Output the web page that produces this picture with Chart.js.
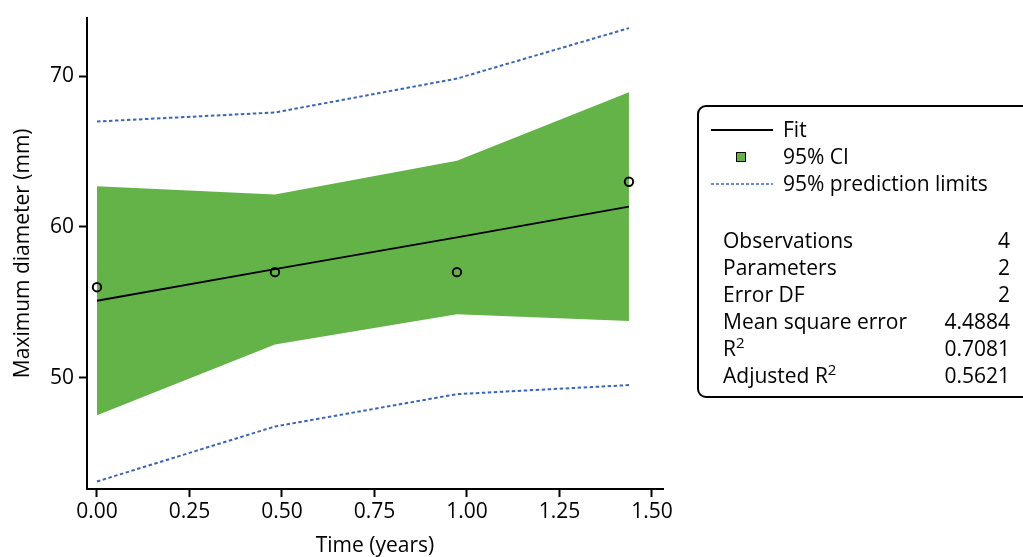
<!DOCTYPE html>
<html>
<head>
<meta charset="utf-8">
<script src="https://cdn.jsdelivr.net/npm/chart.js@4.4.0/dist/chart.umd.min.js"></script>
<style>
  html, body { margin: 0; padding: 0; background: #fff; overflow: hidden; }
  #wrap { position: relative; width: 1023px; height: 557px; font-family: "Open Sans", "Noto Sans", sans-serif; }
  #plot { position: absolute; left: 0; top: 0; }
  #keybox {
    position: absolute; left: 697px; top: 105px; width: 340px; height: 293px;
    border: 2px solid #000; border-radius: 9px; box-sizing: border-box;
    color: #000; font-size: 21px;
  }
  .row { position: absolute; left: 0; width: 100%; height: 27px; line-height: 27px; white-space: nowrap; }
  .sw { position: absolute; left: 12px; }
  .lbl { position: absolute; left: 84px; }
  .stat { position: absolute; left: 24px; }
  .val { position: absolute; left: 0; width: 311px; text-align: right; }
  sup { font-size: 15px; vertical-align: 0; position: relative; top: -8px; }
</style>
</head>
<body>
<div id="wrap">
  <canvas id="plot" width="1023" height="557"></canvas>
  <div id="keybox"></div>
</div>
<script>
// observed maximum diameter over time
const TIME = [0.0, 0.481, 0.973, 1.438];
const DIAMETER = [56, 57, 57, 63];

// fitted line and bands at the same time points
const FIT = [55.1, 57.2, 59.3, 61.35];
const CI_UPPER = [62.7, 62.15, 64.4, 68.95];
const CI_LOWER = [47.5, 52.2, 54.2, 53.75];
const PRED_UPPER = [67.0, 67.6, 69.85, 73.2];
const PRED_LOWER = [43.1, 46.75, 48.9, 49.5];

const X_TICKS = [0, 0.25, 0.5, 0.75, 1.0, 1.25, 1.5];
const Y_TICKS = [50, 60, 70];

const STAT_NAMES = ['Observations', 'Parameters', 'Error DF', 'Mean square error', 'R<sup>2</sup>', 'Adjusted R<sup>2</sup>'];
const STAT_VALUES = ['4', '2', '2', '4.4884', '0.7081', '0.5621'];

const GREEN = 'rgb(99, 179, 72)';
const BLUE = 'rgb(58, 102, 181)';
const FONT = '"Open Sans", "Noto Sans", sans-serif';
const DASH = [3.5, 2.5];

function pts(ys) {
  return TIME.map((t, i) => ({ x: t, y: ys[i] }));
}

const ctx = document.getElementById('plot').getContext('2d');
new Chart(ctx, {
  type: 'scatter',
  data: {
    datasets: [
      {
        label: 'CI upper',
        data: pts(CI_UPPER),
        showLine: true,
        borderWidth: 0,
        borderColor: 'transparent',
        backgroundColor: GREEN,
        pointRadius: 0,
        fill: '+1',
        order: 5
      },
      {
        label: 'CI lower',
        data: pts(CI_LOWER),
        showLine: true,
        borderWidth: 0,
        borderColor: 'transparent',
        pointRadius: 0,
        fill: false,
        order: 5
      },
      {
        label: 'pred upper',
        data: pts(PRED_UPPER),
        showLine: true,
        borderColor: BLUE,
        borderWidth: 2,
        borderDash: DASH,
        pointRadius: 0,
        fill: false,
        order: 3
      },
      {
        label: 'pred lower',
        data: pts(PRED_LOWER),
        showLine: true,
        borderColor: BLUE,
        borderWidth: 2,
        borderDash: DASH,
        pointRadius: 0,
        fill: false,
        order: 3
      },
      {
        label: 'Fit',
        data: pts(FIT),
        showLine: true,
        borderColor: '#000',
        borderWidth: 1.8,
        pointRadius: 0,
        fill: false,
        order: 2
      },
      {
        label: 'Observed',
        data: pts(DIAMETER),
        showLine: false,
        pointRadius: 4.2,
        pointBorderWidth: 2,
        pointBorderColor: '#000',
        pointBackgroundColor: 'transparent',
        order: 1
      }
    ]
  },
  options: {
    responsive: false,
    animation: false,
    layout: { padding: { top: 13, right: 360, left: 0, bottom: 0 } },
    plugins: {
      legend: { display: false },
      tooltip: { enabled: false }
    },
    scales: {
      x: {
        type: 'linear',
        min: -0.027,
        max: 1.53,
        afterBuildTicks: s => { s.ticks = X_TICKS.map(v => ({ value: v })); },
        afterFit: s => { s.height = 68; },
        grid: { display: true, drawOnChartArea: false, drawTicks: true, tickLength: 8, tickColor: '#000', tickWidth: 2 },
        border: { display: true, color: '#000', width: 2 },
        ticks: {
          color: '#000',
          padding: 2,
          font: { family: FONT, size: 21 },
          callback: v => Number(v).toFixed(2)
        },
        title: {
          display: true,
          text: 'Time (years)',
          color: '#000',
          font: { family: FONT, size: 21, lineHeight: 1.0 },
          padding: { top: 0, bottom: 0 }
        }
      },
      y: {
        type: 'linear',
        min: 42.6,
        max: 73.9,
        afterBuildTicks: s => { s.ticks = Y_TICKS.map(v => ({ value: v })); },
        afterFit: s => { s.width = 87; },
        grid: { display: true, drawOnChartArea: false, drawTicks: true, tickLength: 8, tickColor: '#000', tickWidth: 2 },
        border: { display: true, color: '#000', width: 2 },
        ticks: {
          color: '#000',
          padding: 5,
          font: { family: FONT, size: 21 }
        },
        title: {
          display: true,
          text: 'Maximum diameter (mm)',
          color: '#000',
          font: { family: FONT, size: 21 },
          padding: { top: 10, bottom: 0 }
        }
      }
    }
  }
});

// key and fit statistics box
const box = document.getElementById('keybox');
const dashSvg = '<svg width="62" height="4" style="display:block"><line x1="0" y1="2" x2="62" y2="2" stroke="' + BLUE +
  '" stroke-width="1.6" stroke-dasharray="3 2"/></svg>';
let html = '';
html += '<div class="row" style="top:9px"><div class="sw" style="top:13px;width:62px;height:0;border-top:2px solid #000"></div><span class="lbl">Fit</span></div>';
html += '<div class="row" style="top:36px"><div class="sw" style="left:37px;top:9px;width:8px;height:8px;background:' + GREEN + ';border:1.5px solid #000"></div><span class="lbl">95% CI</span></div>';
html += '<div class="row" style="top:63px"><div class="sw" style="top:12px">' + dashSvg + '</div><span class="lbl">95% prediction limits</span></div>';
STAT_NAMES.forEach((name, i) => {
  const top = 120 + i * 27;
  html += '<div class="row" style="top:' + top + 'px"><span class="stat">' + name + '</span><span class="val">' + STAT_VALUES[i] + '</span></div>';
});
box.innerHTML = html;
</script>
</body>
</html>
